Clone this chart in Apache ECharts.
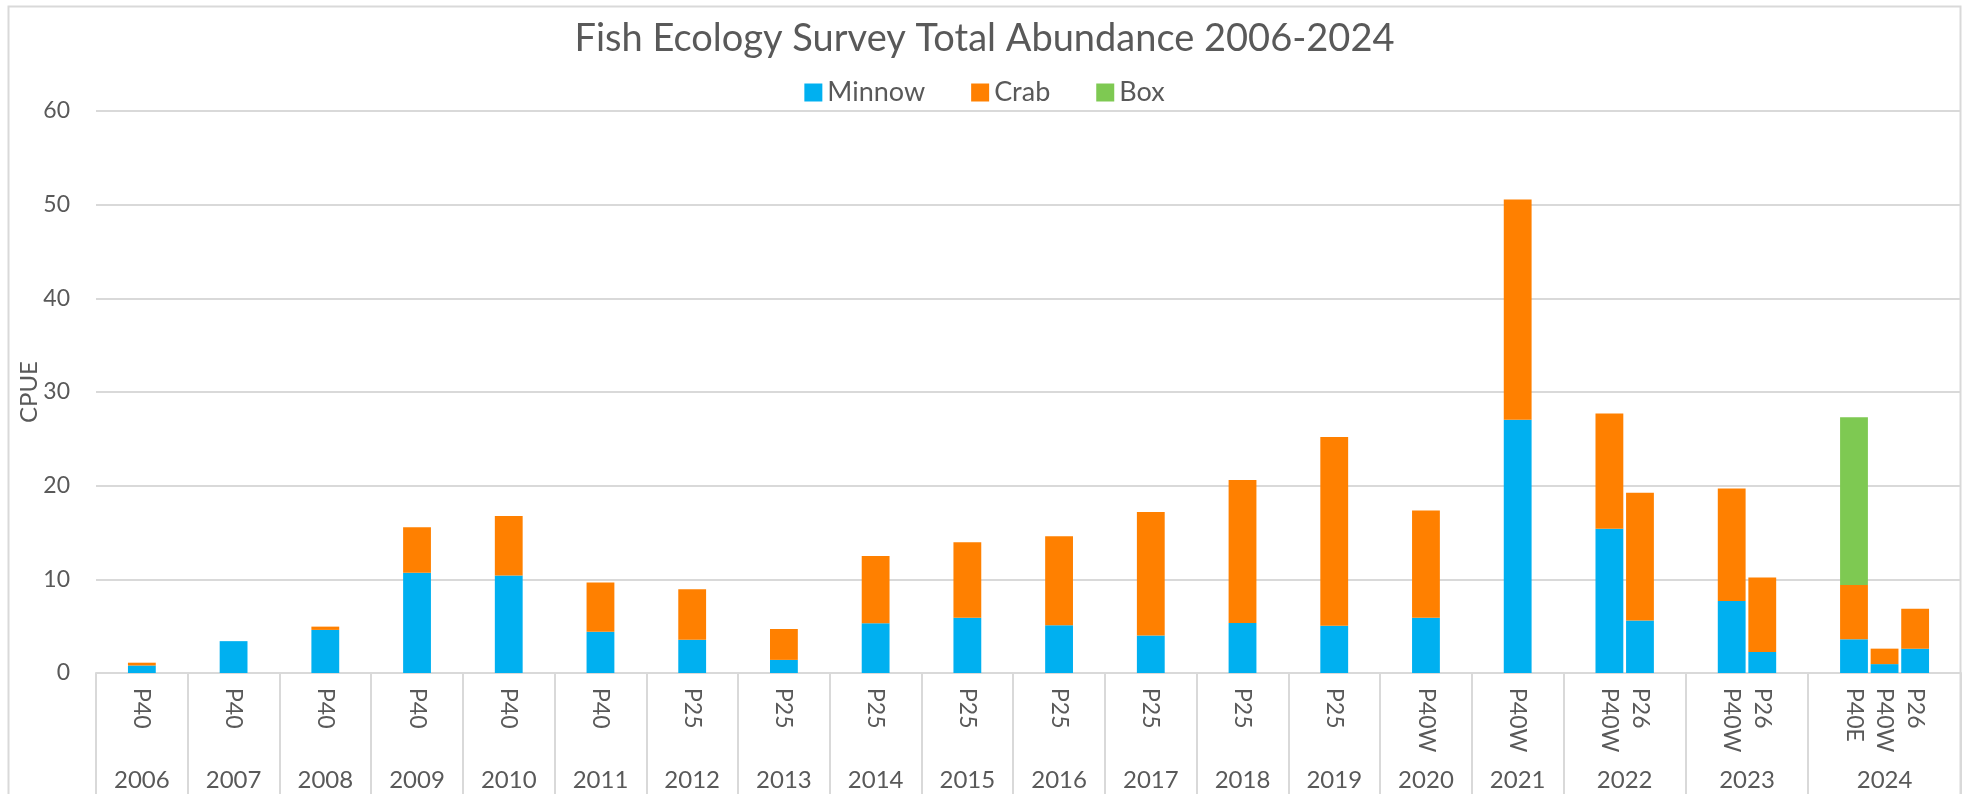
<!DOCTYPE html>
<html>
<head>
<meta charset="utf-8">
<title>Fish Ecology Survey Total Abundance 2006-2024</title>
<script src="https://cdn.jsdelivr.net/npm/echarts@6/dist/echarts.min.js"></script>
<style>
  html, body { margin: 0; padding: 0; background: #fff; }
  #chart { width: 1969px; height: 794px; }
</style>
</head>
<body>
<div id="chart"></div>
<script>
// one entry per bar (year + site)
const barYears = ['2006', '2007', '2008', '2009', '2010', '2011', '2012', '2013', '2014', '2015',
  '2016', '2017', '2018', '2019', '2020', '2021', '2022', '2022', '2023', '2023', '2024', '2024', '2024']
const barSites = ['P40', 'P40', 'P40', 'P40', 'P40', 'P40', 'P25', 'P25', 'P25', 'P25',
  'P25', 'P25', 'P25', 'P25', 'P40W', 'P40W', 'P40W', 'P26', 'P40W', 'P26', 'P40E', 'P40W', 'P26']
const minnow = [0.8, 3.4, 4.6, 10.7, 10.4, 4.4, 3.55, 1.4, 5.3, 5.9,
  5.1, 4.0, 5.35, 5.05, 5.9, 27.05, 15.4, 5.6, 7.7, 2.25, 3.6, 0.95, 2.6]
const crab = [0.3, 0, 0.35, 4.85, 6.35, 5.25, 5.4, 3.3, 7.2, 8.05,
  9.5, 13.2, 15.25, 20.15, 11.45, 23.5, 12.3, 13.65, 12.0, 7.95, 5.8, 1.65, 4.25]
const box = [0, 0, 0, 0, 0, 0, 0, 0, 0, 0,
  0, 0, 0, 0, 0, 0, 0, 0, 0, 0, 17.9, 0, 0]

const textColor = '#595959'
const lineColor = '#D9D9D9'
const font = 'Lato'

// each year gets an empty slot on both sides of its bars
const slotLabels = []
const slotMinnow = []
const slotCrab = []
const slotBox = []
const groups = [] // [year, startSlot, slotCount]
let i = 0
while (i < barYears.length) {
  const year = barYears[i]
  const start = slotLabels.length
  slotLabels.push(''); slotMinnow.push(null); slotCrab.push(null); slotBox.push(null)
  while (i < barYears.length && barYears[i] === year) {
    slotLabels.push(barSites[i])
    slotMinnow.push(minnow[i])
    slotCrab.push(crab[i])
    slotBox.push(box[i])
    i++
  }
  slotLabels.push(''); slotMinnow.push(null); slotCrab.push(null); slotBox.push(null)
  groups.push([year, start, slotLabels.length - start])
}

// year axis: half-slot points, labels at group centres, ticks at group edges
const nSlots = slotLabels.length
const yearLabels = new Array(nSlots * 2 + 1).fill('')
const edgeSet = new Set([nSlots * 2])
groups.forEach(g => {
  yearLabels[g[1] * 2 + g[2]] = g[0]
  edgeSet.add(g[1] * 2)
})

const myChart = echarts.init(document.getElementById('chart'))
myChart.setOption({
  animation: false,
  textStyle: { fontFamily: font },
  graphic: [
    {
      type: 'rect',
      shape: { x: 8.5, y: 6.5, width: 1952, height: 800 },
      style: { fill: 'none', stroke: lineColor, lineWidth: 2 }
    }
  ],
  title: {
    text: 'Fish Ecology Survey Total Abundance 2006-2024',
    left: 'center',
    top: 15,
    textStyle: { fontFamily: font, fontSize: 38, fontWeight: 'normal', color: textColor }
  },
  legend: {
    top: 74,
    left: 'center',
    itemWidth: 18,
    itemHeight: 18,
    itemGap: 46,
    icon: 'rect',
    textStyle: { fontFamily: font, fontSize: 27, color: textColor },
    data: ['Minnow', 'Crab', 'Box']
  },
  grid: { left: 96, right: 8, top: 111, bottom: 121 },
  xAxis: [
    {
      type: 'category',
      data: slotLabels,
      axisLine: { lineStyle: { color: lineColor, width: 2 } },
      axisTick: { show: false },
      axisLabel: {
        interval: 0,
        rotate: -90,
        margin: 15,
        fontFamily: font,
        fontSize: 23,
        color: textColor
      }
    },
    {
      type: 'category',
      data: yearLabels,
      boundaryGap: false,
      position: 'bottom',
      axisLine: { show: false },
      axisTick: {
        show: true,
        interval: (idx) => edgeSet.has(idx),
        length: 125,
        lineStyle: { color: lineColor, width: 2 }
      },
      axisLabel: {
        interval: 0,
        margin: 95,
        fontFamily: font,
        fontSize: 24,
        color: textColor
      }
    }
  ],
  yAxis: {
    type: 'value',
    min: 0,
    max: 60,
    interval: 10,
    name: 'CPUE',
    nameLocation: 'middle',
    nameGap: 55,
    nameMoveOverlap: false,
    nameTextStyle: { fontFamily: font, fontSize: 24, color: textColor },
    axisLine: { show: false },
    axisTick: { show: false },
    axisLabel: { margin: 26, fontFamily: font, fontSize: 23, color: textColor },
    splitLine: { lineStyle: { color: lineColor, width: 2 } }
  },
  series: [
    {
      name: 'Minnow',
      type: 'bar',
      stack: 'total',
      barCategoryGap: '9%',
      itemStyle: { color: '#00B0F0' },
      data: slotMinnow
    },
    {
      name: 'Crab',
      type: 'bar',
      stack: 'total',
      itemStyle: { color: '#FF8000' },
      data: slotCrab
    },
    {
      name: 'Box',
      type: 'bar',
      stack: 'total',
      itemStyle: { color: '#7EC952' },
      data: slotBox
    }
  ]
})
</script>
</body>
</html>
